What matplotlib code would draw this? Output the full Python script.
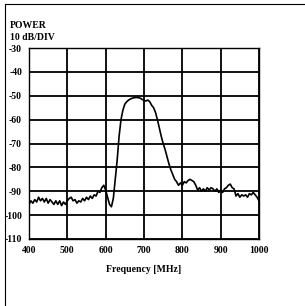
import matplotlib
matplotlib.use("Agg")
import matplotlib.pyplot as plt
from matplotlib.lines import Line2D
import numpy as np

freq_start = 400
freq_step = 5
power_db = [
    -95.5, -94.0, -95.0, -93.5, -94.5, -92.5, -94.0, -93.0, -94.5, -93.0,
    -95.0, -93.5, -94.5, -95.5, -94.0, -95.5, -94.0, -96.0, -94.5, -95.5,
    -94.0, -93.0, -92.5, -94.0, -93.5, -95.0, -94.0, -94.5, -93.0, -94.0,
    -92.5, -93.5, -92.0, -93.0, -91.5, -92.0, -90.0, -90.5, -88.5, -87.5,
    -89.5, -92.5, -95.5, -96.5, -93.0, -85.0, -77.0, -67.0, -60.0, -56.0,
    -53.5, -52.5, -51.8, -51.3, -51.0, -50.8, -50.7, -50.8, -51.0, -51.5,
    -52.0, -52.2, -51.8, -52.5, -54.0, -55.0, -57.0, -60.0, -63.5, -67.0,
    -70.0, -72.5, -75.5, -78.5, -81.0, -83.0, -85.0, -86.0, -87.5, -86.5,
    -87.5, -86.0, -86.5, -85.5, -85.0, -85.5, -86.0, -87.5, -89.5, -88.5,
    -90.0, -89.0, -90.0, -88.5, -89.5, -88.5, -89.0, -90.0, -89.0, -90.5,
    -89.5, -90.5, -89.0, -88.5, -87.5, -87.0, -88.5, -89.0, -92.0, -91.0,
    -92.5, -91.5, -92.0, -91.5, -92.5, -91.0, -91.5, -90.5, -91.5, -92.5,
    -94.0,
]
freqs = [freq_start + i * freq_step for i in range(len(power_db))]

x_ticks = [400, 500, 600, 700, 800, 900, 1000]
y_ticks = [-30, -40, -50, -60, -70, -80, -90, -100, -110]

font = {"family": "Liberation Serif", "weight": "bold"}

fig = plt.figure(figsize=(3.05, 3.06), dpi=100)
ax = fig.add_axes([29/305, 1-239/306, 230/305, 191/306])
ax.plot(freqs, power_db, color="black", lw=1.2)
ax.set_xlim(400, 1000)
ax.set_ylim(-110, -30)
ax.set_xticks(x_ticks)
ax.set_yticks(y_ticks)
ax.set_xticklabels([str(t) for t in x_ticks], fontdict=font, fontsize=7)
ax.set_yticklabels([str(t) for t in y_ticks], fontdict=font, fontsize=7)
ax.tick_params(length=0, pad=5)
ax.grid(True, color="black", lw=1.3)
for s in ax.spines.values():
    s.set_linewidth(1.0)
ax.set_xlabel("Frequency [MHz]", fontdict=font, fontsize=7, labelpad=7)

fig.text(10/305, 1-25/306, "POWER", fontdict=font, fontsize=7, va="center", ha="left")
fig.text(10/305, 1-38/306, "10 dB/DIV", fontdict=font, fontsize=7, va="center", ha="left")

fig.add_artist(Line2D([5/305, 1.0], [1-4/306, 1-4/306], transform=fig.transFigure, color="black", lw=0.8))
fig.add_artist(Line2D([5/305, 5/305], [1-4/306, 0.0], transform=fig.transFigure, color="black", lw=0.8))

fig.savefig("out.png", dpi=100)
